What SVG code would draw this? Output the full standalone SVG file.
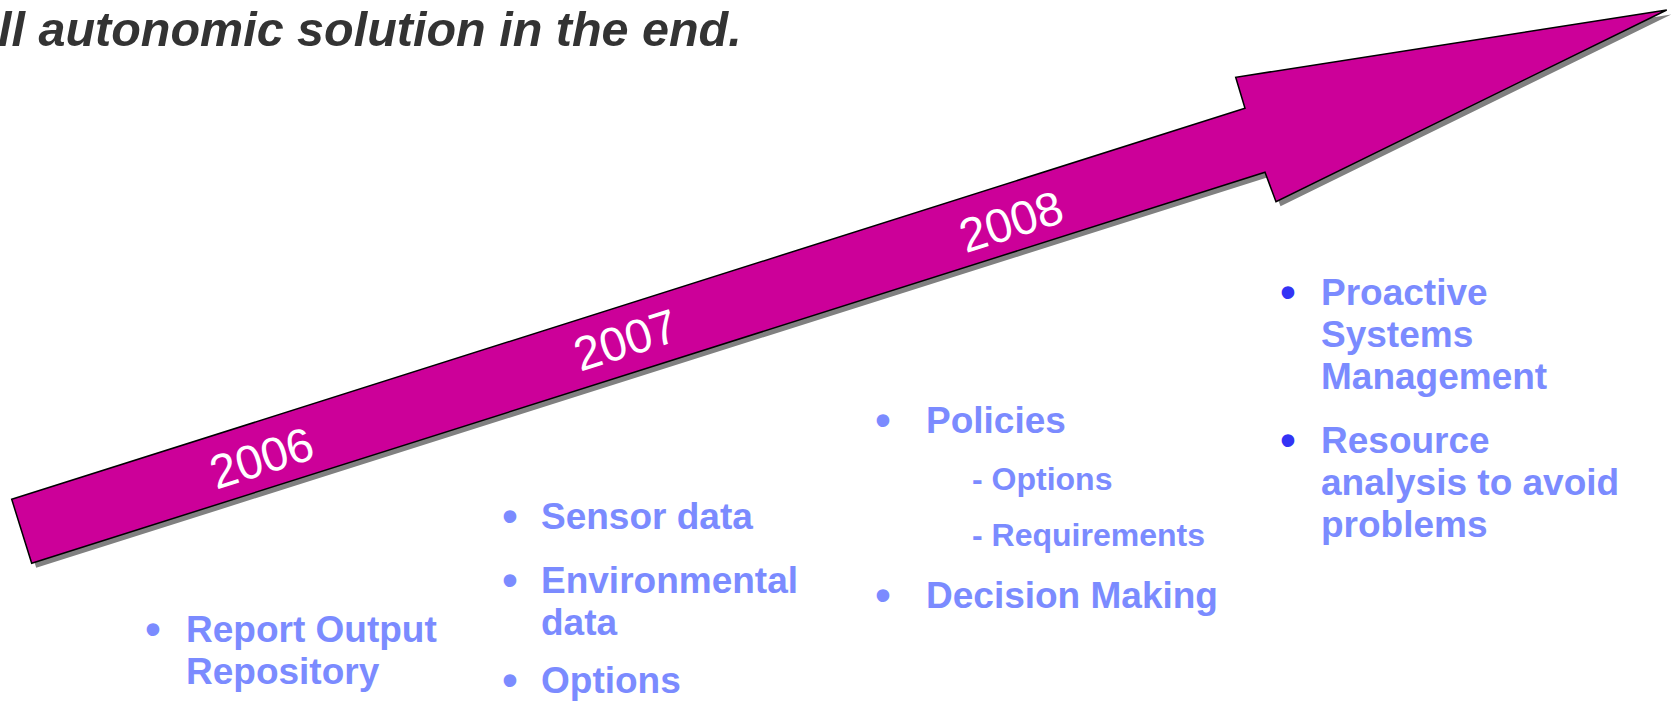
<svg xmlns="http://www.w3.org/2000/svg" width="1676" height="707" viewBox="0 0 1676 707">
<style>
.title{font-family:"Liberation Sans",Arial,sans-serif;font-weight:bold;font-style:italic;font-size:48.5px;fill:#333333}
.yr{font-family:"Liberation Sans",Arial,sans-serif;font-size:47.5px;fill:#ffffff}
.t{font-family:"Liberation Sans",Arial,sans-serif;font-weight:bold;font-size:37px;fill:#7B8BFF}
.s{font-family:"Liberation Sans",Arial,sans-serif;font-weight:bold;font-size:32px;fill:#7B8BFF}
.b{font-family:"Liberation Sans",Arial,sans-serif;font-weight:bold;font-size:44px;fill:#7B8BFF;text-anchor:middle}
.bd{fill:#3333F5}
</style>
<defs>
<polygon id="arrowShape" points="11.7,499.3 1245,108.3 1235.7,77.3 1666.7,10 1276,201.7 1265,172.3 31.7,563.3"/>
</defs>
<rect width="1676" height="707" fill="#ffffff"/>
<text class="title" x="-2" y="46">ll autonomic solution in the end.</text>
<g id="arrow">
<use href="#arrowShape" transform="translate(4.5,4.5)" fill="#808080"/>
<use href="#arrowShape" fill="#CC0099" stroke="#000000" stroke-width="1.5" stroke-linejoin="miter"/>
<text class="yr" text-anchor="middle" transform="translate(261.5,457.5) rotate(-17.6)" y="17">2006</text>
<text class="yr" text-anchor="middle" transform="translate(625.5,339.5) rotate(-17.6)" y="17">2007</text>
<text class="yr" text-anchor="middle" transform="translate(1011,221) rotate(-17.6)" y="17">2008</text>
</g>
<g id="connectors"></g>
<g id="node-2006">
<text class="b" x="153" y="644">•</text>
<text class="t" x="186" y="642">Report Output</text>
<text class="t" x="186" y="684">Repository</text>
</g>
<g id="node-2007">
<text class="b" x="510" y="531">•</text>
<text class="t" x="541" y="529">Sensor data</text>
<text class="b" x="510" y="595">•</text>
<text class="t" x="541" y="593">Environmental</text>
<text class="t" x="541" y="635">data</text>
<text class="b" x="510" y="695">•</text>
<text class="t" x="541" y="693">Options</text>
</g>
<g id="node-2008">
<text class="b" x="883" y="435">•</text>
<text class="t" x="926" y="433">Policies</text>
<text class="s" x="972" y="490">- Options</text>
<text class="s" x="972" y="546">- Requirements</text>
<text class="b" x="883" y="610">•</text>
<text class="t" x="926" y="608">Decision Making</text>
</g>
<g id="node-future">
<text class="b bd" x="1288" y="307">•</text>
<text class="t" x="1321" y="305">Proactive</text>
<text class="t" x="1321" y="347">Systems</text>
<text class="t" x="1321" y="389">Management</text>
<text class="b bd" x="1288" y="455">•</text>
<text class="t" x="1321" y="453">Resource</text>
<text class="t" x="1321" y="495">analysis to avoid</text>
<text class="t" x="1321" y="537">problems</text>
</g>
</svg>
